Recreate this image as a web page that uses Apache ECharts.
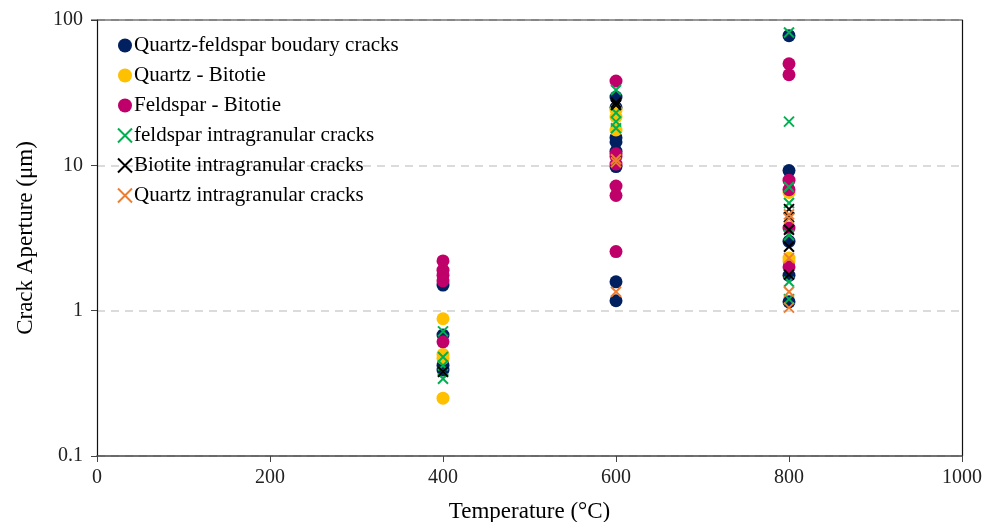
<!DOCTYPE html>
<html><head><meta charset="utf-8">
<script src="https://cdn.jsdelivr.net/npm/echarts@6/dist/echarts.min.js"></script>
<style>html,body{margin:0;padding:0;background:#fff}#c{width:984px;height:522px}</style>
</head><body><div id="c"></div>
<script>
// Data: [temperature, aperture]
const seriesNames = ["Quartz-feldspar boudary cracks","Quartz - Bitotie","Feldspar - Bitotie","feldspar intragranular cracks","Biotite intragranular cracks","Quartz intragranular cracks"];
const qfBoundary = [[400,1.5],[400,0.68],[400,0.42],[400,0.39],[600,29.5],[600,25],[600,15.5],[600,14.5],[600,12.5],[600,9.8],[600,1.58],[600,1.17],[800,78],[800,9.2],[800,3.0],[800,1.75],[800,1.15]];
const qBiotite = [[400,0.88],[400,0.5],[400,0.47],[400,0.25],[600,24],[600,21.5],[600,17.5],[800,6.5],[800,2.3],[800,2.2]];
const fBiotite = [[400,2.2],[400,1.9],[400,1.75],[400,1.6],[400,0.61],[600,38],[600,12],[600,11.5],[600,10.2],[600,7.2],[600,6.2],[600,2.55],[800,50],[800,42],[800,7.9],[800,6.8],[800,3.7],[800,2.0]];
const fIntra = [[400,0.72],[400,0.48],[400,0.42],[400,0.38],[400,0.34],[600,33],[600,23],[600,20],[600,18],[800,82],[800,20],[800,7.1],[800,5.5],[800,3.3],[800,1.58],[800,1.2]];
const bIntra = [[400,0.38],[600,27],[600,26],[600,10.6],[800,5.0],[800,4.4],[800,3.6],[800,2.75],[800,1.77]];
const qIntra = [[600,11],[600,10.5],[600,1.35],[800,4.6],[800,4.3],[800,2.3],[800,1.35],[800,1.05]];
const colors = ["#002060","#FFC000","#C0006A","#00B050","#000000","#ED7D31"];

const X = 'path://M0,0L10,10M10,0L0,10';
const font = '"Liberation Serif","Times New Roman",serif';
const datasets = [qfBoundary,qBiotite,fBiotite,fIntra,bIntra,qIntra];
const series = datasets.map((d,i)=>{
  const isX = i>=3;
  return {
    name: seriesNames[i], type:'scatter', data:d,
    symbol: isX ? X : 'circle',
    symbolSize: isX ? 10 : 13,
    itemStyle: isX ? {color:colors[i], borderColor:colors[i], borderWidth:2, opacity:1} : {color:colors[i], opacity:1},
    emphasis:{disabled:true}
  };
});
const chart = echarts.init(document.getElementById('c'));
chart.setOption({
  animation:false,
  grid:{left:97,right:22,top:20,bottom:66,outerBoundsMode:'none',containLabel:false},
  legend:{
    orient:'vertical', left:112, top:30, itemGap:9, itemWidth:14, itemHeight:14,
    data: seriesNames.map((n,i)=>({name:n, icon: i>=3 ? X : 'circle',
      itemStyle: i>=3 ? {color:colors[i], borderColor:colors[i], borderWidth:2} : {color:colors[i]}})),
    textStyle:{fontFamily:font, fontSize:21, lineHeight:20, color:'#000', padding:[0,0,0,-3]}
  },
  xAxis:{
    type:'value', min:0, max:1000, interval:200,
    name:'Temperature (°C)', nameLocation:'middle', nameGap:44,
    nameTextStyle:{fontFamily:font, fontSize:23, color:'#000'},
    axisLine:{lineStyle:{color:'#444', width:1.5}},
    axisTick:{show:true, length:6, lineStyle:{color:'#444'}},
    axisLabel:{fontFamily:font, fontSize:20, color:'#222', margin:12, formatter:v=>String(v)},
    splitLine:{show:false}
  },
  yAxis:[{
    type:'log', logBase:10, min:0.1, max:100,
    name:'Crack Aperture (μm)', nameLocation:'middle', nameGap:60,
    nameTextStyle:{fontFamily:font, fontSize:23, color:'#000'},
    axisLine:{show:true, lineStyle:{color:'#111', width:1.2}},
    axisTick:{show:true, length:6, lineStyle:{color:'#444'}},
    axisLabel:{fontFamily:font, fontSize:20, color:'#222', margin:14, formatter:v=>String(v)},
    splitLine:{show:true, lineStyle:{color:'#d0d0d0', type:[8,6], width:1.5}},
    minorTick:{show:false}
  },{
    type:'log', logBase:10, min:0.1, max:100, position:'right',
    axisLine:{show:true, lineStyle:{color:'#111', width:1.2}},
    axisTick:{show:false}, axisLabel:{show:false}, splitLine:{show:false}
  }],
  series: series
});
// top border line
const p0 = chart.convertToPixel({xAxisIndex:0,yAxisIndex:0},[0,100]);
const p1 = chart.convertToPixel({xAxisIndex:0,yAxisIndex:0},[1000,100]);
chart.setOption({graphic:[{type:'line', shape:{x1:p0[0]-6,y1:p0[1],x2:p1[0],y2:p1[1]}, style:{stroke:'#333', lineWidth:1.2}, z:1}]});
</script></body></html>
